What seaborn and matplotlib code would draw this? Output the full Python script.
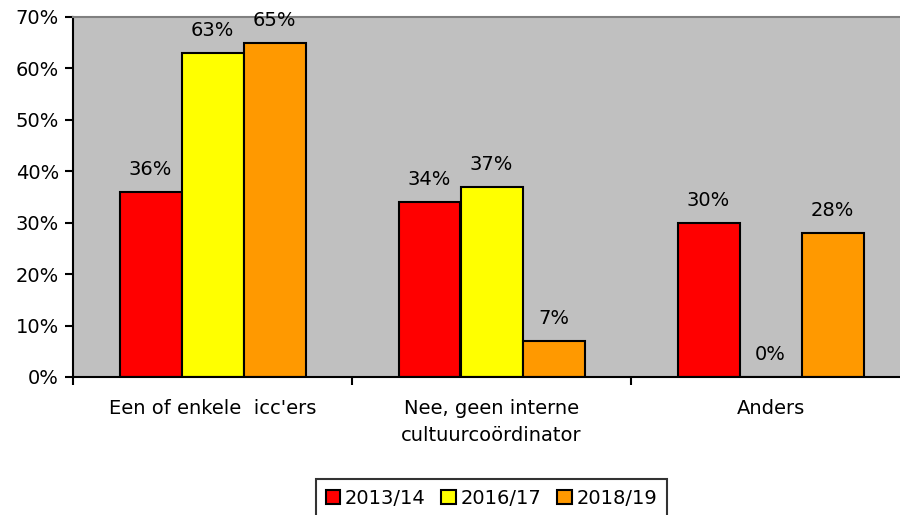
import pandas as pd
import matplotlib.pyplot as plt
import seaborn as sns

categories = ["Een of enkele  icc'ers", "Nee, geen interne\ncultuurcoördinator", "Anders"]
years = ["2013/14", "2016/17", "2018/19"]
v_2013 = [36, 34, 30]
v_2016 = [63, 37, 0]
v_2018 = [65, 7, 28]
colors = ["#FF0000", "#FFFF00", "#FF9900"]

rows = []
for yr, vals in zip(years, [v_2013, v_2016, v_2018]):
    for cat, v in zip(categories, vals):
        rows.append({"cat": cat, "jaar": yr, "pct": v})
df = pd.DataFrame(rows)

sns.set_style("white")
plt.rcParams['font.family'] = ['DejaVu Sans']
plt.rcParams['text.color'] = 'black'
plt.rcParams['xtick.color'] = 'black'
plt.rcParams['ytick.color'] = 'black'

fs = 14

fig = plt.figure(figsize=(9, 5.15), dpi=100)
ax = fig.add_axes([73/900, 138/515, 837/900, 360/515])
ax.set_facecolor("#C0C0C0")

sns.barplot(data=df, x="cat", y="pct", hue="jaar", palette=colors, width=2/3,
            edgecolor="black", linewidth=1.5, saturation=1, ax=ax, legend=True)

for cont in ax.containers:
    ax.bar_label(cont, fmt="%g%%", padding=9.5, fontsize=fs, color="black")

ax.set_ylim(0, 70)
ax.set_yticks(range(0, 71, 10))
ax.set_yticklabels([f"{t}%" for t in range(0, 71, 10)], fontsize=fs)
ax.set_xlim(-0.5, 2.5)
ax.set_xticks([-0.5, 0.5, 1.5, 2.5])
ax.set_xticklabels([])
ax.set_xticks([0, 1, 2], minor=True)
ax.set_xticklabels(categories, minor=True, fontsize=fs, linespacing=1.55, va="top")
ax.tick_params(axis="x", which="minor", length=0, pad=16)
ax.tick_params(axis="x", which="major", length=6, width=1.5, direction="out", bottom=True)
ax.tick_params(axis="y", length=6, width=1.5, direction="out", left=True, pad=4)
ax.set_xlabel("")
ax.set_ylabel("")

for s in ["left", "bottom"]:
    ax.spines[s].set_color("black")
    ax.spines[s].set_linewidth(1.5)
ax.spines["top"].set_color("#808080")
ax.spines["top"].set_linewidth(1.5)
ax.spines["right"].set_visible(False)

handles, labels = ax.get_legend_handles_labels()
ax.get_legend().remove()
leg = fig.legend(handles, labels, loc="upper center", bbox_to_anchor=(0.546, 0.075 + 7/515),
                 ncol=3, fontsize=fs, frameon=True, fancybox=False, edgecolor="black",
                 handlelength=0.75, handleheight=0.75, handletextpad=0.25, columnspacing=0.8,
                 borderpad=0.5)
leg.get_frame().set_linewidth(1.5)

fig.savefig("out.png", dpi=100)
